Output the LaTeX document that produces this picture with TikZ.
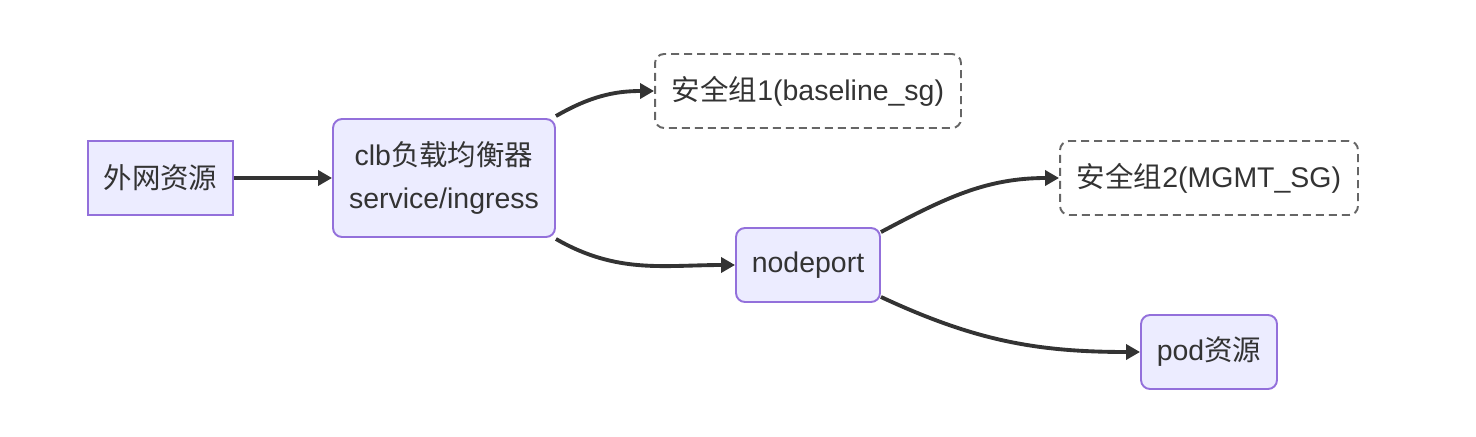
\documentclass[tikz,border=0pt]{standalone}
\usepackage{fontspec}
\setmainfont{Liberation Sans}
\newfontfamily\cjk{Noto Sans CJK SC}
\usetikzlibrary{arrows.meta, positioning}
\definecolor{boxfill}{HTML}{ECECFF}
\definecolor{boxline}{HTML}{9370DB}
\definecolor{darktext}{HTML}{333333}
\definecolor{sgline}{HTML}{666666}

\tikzset{
  resbox/.style={rectangle, rounded corners=0.18cm, draw=boxline, fill=boxfill, line width=1.1pt, minimum height=1.48cm, text=darktext, font=\fontsize{16.2}{24}\selectfont, align=center},
  sgbox/.style={rectangle, rounded corners=0.18cm, draw=sgline, line width=1.1pt, dash pattern=on 0.16cm off 0.1cm, minimum height=1.48cm, text=darktext, font=\fontsize{16.2}{24}\selectfont},
  flow/.style={draw=darktext, line width=2.2pt, -{Triangle[length=0.28cm, width=0.3cm]}}
}

\begin{document}
\begin{tikzpicture}[x=0.02cm, y=-0.02cm]
\useasboundingbox (0,0) rectangle (1476,436);
% Boxes
\node[resbox, rounded corners=0pt, minimum width=2.9cm] (outer) at (160.5,178) {\cjk 外网资源};
\node[resbox, minimum width=4.44cm, minimum height=2.36cm] (clb) at (444,178) {clb{\cjk 负载均衡器}\\service/ingress};
\node[sgbox, minimum width=6.12cm] (sgone) at (808,91) {{\cjk 安全组}1(baseline\_sg)};
\node[resbox, minimum width=2.88cm] (nodeport) at (808,265) {nodeport};
\node[sgbox, minimum width=5.96cm] (sgtwo) at (1209,178) {{\cjk 安全组}2(MGMT\_SG)};
\node[resbox, minimum width=2.72cm] (pod) at (1209,352) {pod{\cjk 资源}};

% Arrows
\draw[flow] (outer) -- (clb);
\draw[flow] ([yshift=0.04cm]clb.north east) to[out=30, in=180] (sgone.west);
\draw[flow] ([yshift=-0.02cm]clb.south east) to[out=-30, in=180] (nodeport.west);
\draw[flow] ([yshift=-0.1cm]nodeport.north east) to[out=28, in=180] (sgtwo.west);
\draw[flow] ([yshift=0.12cm]nodeport.south east) to[out=-25, in=180] (pod.west);
\end{tikzpicture}
\end{document}
